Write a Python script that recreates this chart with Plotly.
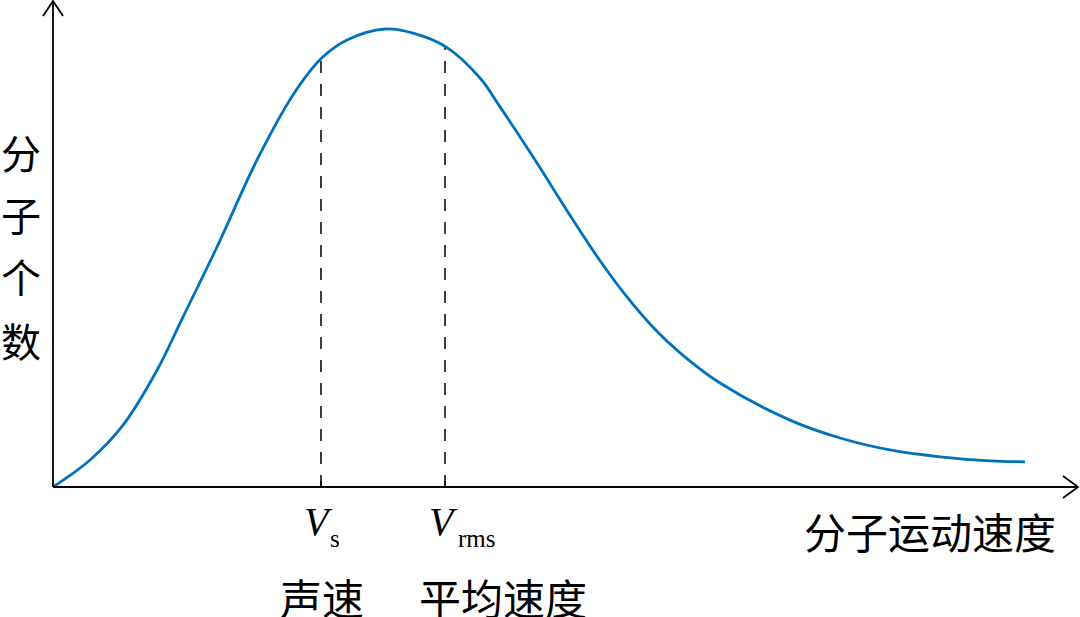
import plotly.graph_objects as go

# Curve values (speed in arbitrary units, count normalised to peak)
speed = [0.0, 0.381, 0.720, 1.070, 1.337, 1.687, 2.099, 2.469, 2.767, 3.025, 3.416,
         3.704, 4.043, 4.393, 4.599, 4.938, 5.350, 5.628, 5.905, 6.173, 6.451,
         6.862, 7.582, 8.097, 8.611, 9.126, 9.640, 10.0]
count = [0.0, 0.059, 0.135, 0.255, 0.371, 0.524, 0.714, 0.856, 0.937, 0.976, 1.000,
         0.991, 0.961, 0.893, 0.830, 0.721, 0.583, 0.494, 0.415, 0.349, 0.293,
         0.227, 0.146, 0.107, 0.081, 0.066, 0.057, 0.055]

# Marked speeds and curve heights at them
marker_speed = [2.757, 4.033]
marker_count = [0.937, 0.961]
marker_letter = ["V", "V"]
marker_sub = ["s", "rms"]
marker_name = ["声速", "平均速度"]
x_title = "分子运动速度"
y_title = ["分", "子", "个", "数"]

W, H = 1080, 617
X0, Y0 = 53, 487          # pixel of origin
SX, SY = 97.2, 458.0      # pixels per unit
xr = [-X0 / SX, (W - X0) / SX]
yr = [(Y0 - H) / SY, Y0 / SY]

def dx(px):
    return (px - X0) / SX

def dy(py):
    return (Y0 - py) / SY

fig = go.Figure()

# dashed guide lines
for s, c in zip(marker_speed, marker_count):
    fig.add_trace(go.Scatter(x=[s, s], y=[0, c], mode="lines",
                             line=dict(color="black", width=1.5, dash="12px,11px"),
                             hoverinfo="skip", showlegend=False))

fig.add_trace(go.Scatter(x=speed, y=count, mode="lines",
                         line=dict(color="#0072BD", width=2.8, shape="spline", smoothing=1.0),
                         hoverinfo="skip", showlegend=False))

shapes = []
line_style = dict(color="black", width=1.8)
# axes
shapes.append(dict(type="line", xref="x", yref="y", x0=0, y0=0, x1=dx(1078), y1=0, line=line_style))
shapes.append(dict(type="line", xref="x", yref="y", x0=0, y0=0, x1=0, y1=dy(1), line=line_style))
# arrow heads
shapes.append(dict(type="path", xref="x", yref="y",
                   path=f"M {dx(1063)} {dy(476)} L {dx(1078)} {dy(487)} L {dx(1063)} {dy(498)}",
                   line=line_style))
shapes.append(dict(type="path", xref="x", yref="y",
                   path=f"M {dx(43)} {dy(16)} L {dx(53)} {dy(1)} L {dx(63)} {dy(16)}",
                   line=line_style))
# small ticks
for s in marker_speed:
    shapes.append(dict(type="line", xref="x", yref="y", x0=s, y0=0, x1=s, y1=dy(481),
                       line=dict(color="black", width=1.5)))

annotations = []
letter_px = [318, 443]
sub_px = [335, 477]
name_px = [322, 503]
for i in range(2):
    annotations.append(dict(x=dx(letter_px[i]), y=dy(521), xref="x", yref="y",
                            text=f"<i>{marker_letter[i]}</i>",
                            showarrow=False, xanchor="center", yanchor="middle",
                            font=dict(family="Liberation Serif", size=40, color="black")))
    annotations.append(dict(x=dx(sub_px[i]), y=dy(538), xref="x", yref="y",
                            text=marker_sub[i],
                            showarrow=False, xanchor="center", yanchor="middle",
                            font=dict(family="Liberation Serif", size=25, color="black")))
    annotations.append(dict(x=dx(name_px[i]), y=dy(596), xref="x", yref="y", text=marker_name[i],
                            showarrow=False, xanchor="center", yanchor="middle",
                            font=dict(family="Noto Sans CJK SC", size=42, color="black")))
annotations.append(dict(x=dx(930), y=dy(530), xref="x", yref="y", text=x_title,
                        showarrow=False, xanchor="center", yanchor="middle",
                        font=dict(family="Noto Sans CJK SC", size=42, color="black")))
ypx = [152, 214, 276, 340]
for ch, py in zip(y_title, ypx):
    annotations.append(dict(x=dx(21), y=dy(py), xref="x", yref="y", text=ch,
                            showarrow=False, xanchor="center", yanchor="middle",
                            font=dict(family="Noto Sans CJK SC", size=40, color="black")))

fig.update_layout(
    width=W, height=H,
    margin=dict(l=0, r=0, t=0, b=0),
    paper_bgcolor="white", plot_bgcolor="white",
    xaxis=dict(range=xr, visible=False, fixedrange=True),
    yaxis=dict(range=yr, visible=False, fixedrange=True),
    shapes=shapes, annotations=annotations,
)

fig.write_html("out.html", config={"displayModeBar": False},
               post_script="document.body.style.margin='0px';document.body.style.overflow='hidden';")
